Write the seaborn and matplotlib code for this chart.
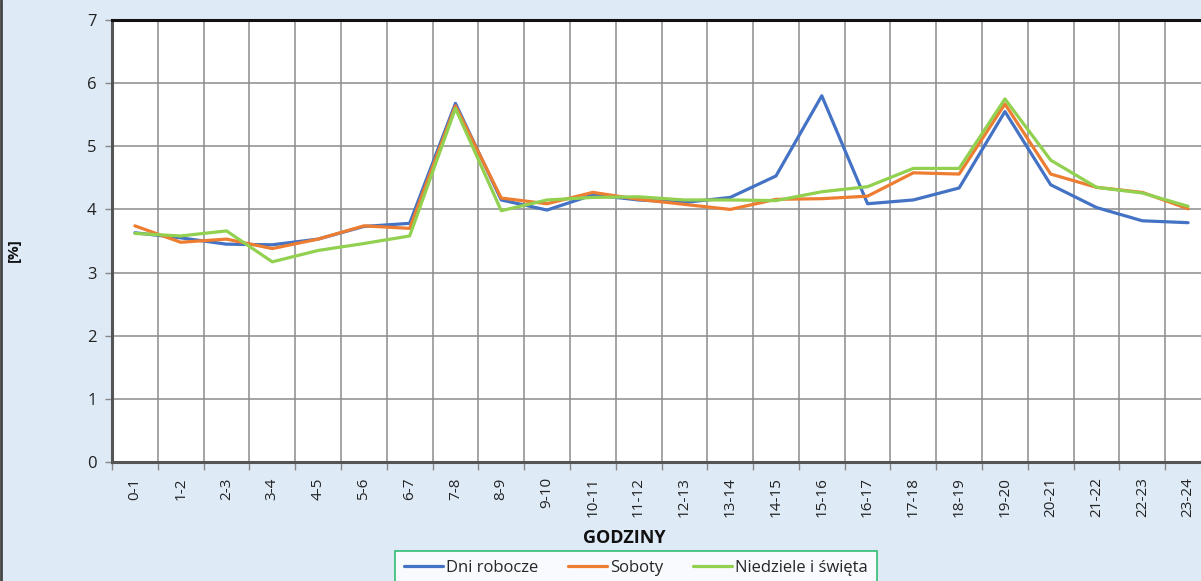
import matplotlib
matplotlib.use("Agg")
import matplotlib.pyplot as plt
import seaborn as sns
import pandas as pd
import numpy as np

hours = ["0-1", "1-2", "2-3", "3-4", "4-5", "5-6", "6-7", "7-8", "8-9", "9-10",
         "10-11", "11-12", "12-13", "13-14", "14-15", "15-16", "16-17", "17-18",
         "18-19", "19-20", "20-21", "21-22", "22-23", "23-24"]
dni_robocze = [3.63, 3.55, 3.45, 3.44, 3.53, 3.73, 3.78, 5.68, 4.15, 3.99,
               4.23, 4.15, 4.11, 4.19, 4.53, 5.80, 4.09, 4.15, 4.34, 5.55,
               4.39, 4.03, 3.82, 3.79]
soboty = [3.74, 3.48, 3.53, 3.38, 3.53, 3.74, 3.70, 5.64, 4.18, 4.09,
          4.27, 4.16, 4.08, 4.00, 4.16, 4.17, 4.21, 4.58, 4.56, 5.67,
          4.56, 4.35, 4.27, 4.01]
niedziele = [3.62, 3.58, 3.66, 3.17, 3.35, 3.46, 3.58, 5.60, 3.98, 4.15,
             4.19, 4.20, 4.15, 4.15, 4.14, 4.28, 4.36, 4.65, 4.65, 5.75,
             4.78, 4.35, 4.26, 4.05]
series_names = ["Dni robocze", "Soboty", "Niedziele i święta"]
colors = ["#4472C4", "#ED7D31", "#92D050"]

rows = []
for name, vals in zip(series_names, [dni_robocze, soboty, niedziele]):
    for i, (h, v) in enumerate(zip(hours, vals)):
        rows.append({"idx": i, "godz": h, "seria": name, "val": v})
df = pd.DataFrame(rows)

sns.set_theme(style="white")
plt.rcParams['font.family'] = ['Open Sans', 'DejaVu Sans']

bg = "#DEEAF6"
fig = plt.figure(figsize=(12.01, 5.81), dpi=100, facecolor=bg)
ax = fig.add_axes([112/1201, (581-462)/581, 1099/1201, 442/581])
ax.set_facecolor("white")

sns.lineplot(data=df, x="idx", y="val", hue="seria", palette=colors,
             hue_order=series_names, linewidth=2.3, ax=ax, legend=True)

ax.set_xlim(-0.5, len(hours) - 0.5)
ax.set_ylim(0, 7)
ax.set_yticks(range(0, 8))
ax.set_xticks(range(len(hours)))
ax.set_xticklabels(hours, rotation=90, fontsize=11, color="#222222")
ax.set_xticks(np.arange(-0.5, len(hours), 1.0), minor=True)
ax.tick_params(axis="y", labelsize=12, colors="#222222", length=5, width=1,
               color="#888888", direction="out", left=True, pad=6)
ax.tick_params(axis="x", which="major", length=0, pad=11)
ax.tick_params(axis="x", which="minor", length=6, width=1, color="#888888",
               direction="out", bottom=True)
ax.grid(axis="y", which="major", color="#8c8c8c", linewidth=1.1)
ax.grid(axis="x", which="minor", color="#8c8c8c", linewidth=1.1)
ax.grid(axis="x", which="major", visible=False)

for s in ["left", "bottom"]:
    ax.spines[s].set_color("#555555")
    ax.spines[s].set_linewidth(2.2)
ax.spines["top"].set_color("#111111")
ax.spines["top"].set_linewidth(2.2)
ax.spines["right"].set_visible(False)

ax.set_xlabel("")
ax.set_ylabel("")
fig.text(624/1201, 1 - 538/581, "GODZINY", ha="center", va="center",
         fontsize=13, fontweight="bold", color="#111111")
fig.text(14/1201, 1 - 250/581, "[%]", ha="center", va="center", rotation=90,
         fontsize=11, fontweight="bold", color="#111111")

handles, labels = ax.get_legend_handles_labels()
ax.legend_.remove()
leg = fig.legend(handles, labels, loc="upper center",
                 bbox_to_anchor=(636/1201, 1 - 551/581), ncol=3,
                 frameon=True, fontsize=12, handlelength=2.3,
                 handletextpad=0.2, columnspacing=1.8, borderpad=0.55,
                 borderaxespad=0.0, fancybox=False)
leg.get_frame().set_edgecolor("#00B050")
leg.get_frame().set_linewidth(1.2)
leg.get_frame().set_facecolor("white")

# outer border on left edge
fig.add_artist(plt.Line2D([0.0008, 0.0008], [0, 1], color="#444444",
                          linewidth=2, transform=fig.transFigure))

fig.savefig("out.png", dpi=100, facecolor=bg)
